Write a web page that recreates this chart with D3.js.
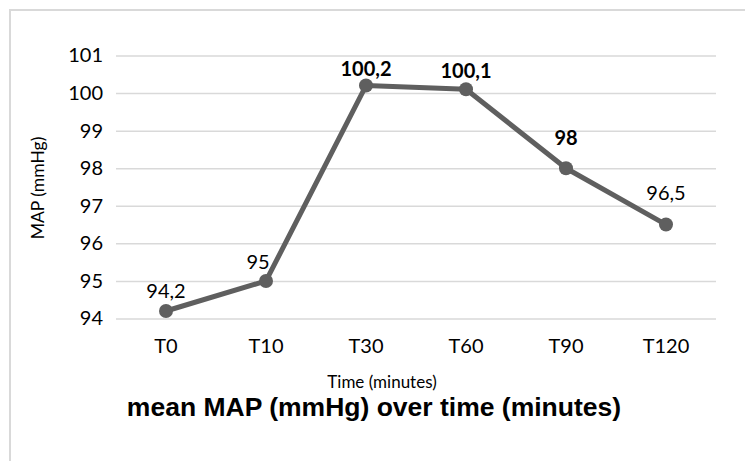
<!DOCTYPE html>
<html>
<head>
<meta charset="utf-8">
<script src="https://cdn.jsdelivr.net/npm/d3@7"></script>
<style>
  html, body { margin: 0; padding: 0; background: #fff; }
  svg { display: block; }
</style>
</head>
<body>
<svg id="chart" width="745" height="461"></svg>
<script>
// Mean arterial pressure at each time point
const categories = ["T0", "T10", "T30", "T60", "T90", "T120"];
const mapValues = [94.2, 95, 100.2, 100.1, 98, 96.5];
const boldLabels = [false, false, true, true, true, false];
const yTicks = [94, 95, 96, 97, 98, 99, 100, 101];

// hand-placed value label offsets (dx, dy from the marker)
const labelNudge = [[0, -13], [-8, -12], [0, -10], [0, -11], [0, -23], [0, -25]];

const svg = d3.select("#chart");
const W = 745, H = 461;
const plot = { left: 116, right: 716, top: 55.5, bottom: 318.5 };
const tickFont = "Lato, 'Open Sans', sans-serif";
const lineColor = "#5f5f5f";

// outer chart frame
svg.append("rect")
  .attr("x", 10).attr("y", 10)
  .attr("width", W + 20).attr("height", H + 20)
  .attr("fill", "#fff")
  .attr("stroke", "#d9d9d9").attr("stroke-width", 2);

const x = d3.scaleBand().domain(categories).range([plot.left, plot.right]);
const y = d3.scaleLinear().domain([94, 101]).range([plot.bottom, plot.top]);

// horizontal gridlines + y labels
const yAxis = d3.axisLeft(y).tickValues(yTicks).tickFormat(d3.format("d"))
  .tickSize(-(plot.right - plot.left)).tickPadding(13);
const gy = svg.append("g").attr("transform", `translate(${plot.left},0)`).call(yAxis);
gy.select(".domain").remove();
gy.selectAll(".tick line").attr("stroke", "#d9d9d9").attr("stroke-width", 1.5);
gy.selectAll(".tick text")
  .attr("fill", "#000").style("font-family", tickFont).style("font-size", "20px");

// category labels
const xAxis = d3.axisBottom(x).tickSize(0).tickPadding(20);
const gx = svg.append("g").attr("transform", `translate(0,${plot.bottom})`).call(xAxis);
gx.select(".domain").remove();
gx.selectAll(".tick text")
  .attr("fill", "#000").style("font-family", tickFont).style("font-size", "20px");

const cx = d => x(d) + x.bandwidth() / 2;
const pts = categories.map((c, i) => ({ c, v: mapValues[i], bold: boldLabels[i], nudge: labelNudge[i] }));

// series line
svg.append("path")
  .datum(pts)
  .attr("fill", "none")
  .attr("stroke", lineColor)
  .attr("stroke-width", 5)
  .attr("stroke-linejoin", "round")
  .attr("d", d3.line().x(d => cx(d.c)).y(d => y(d.v)));

// markers
svg.selectAll("circle.pt").data(pts).join("circle")
  .attr("class", "pt")
  .attr("cx", d => cx(d.c)).attr("cy", d => y(d.v))
  .attr("r", 7).attr("fill", lineColor);

// value labels
svg.selectAll("text.val").data(pts).join("text")
  .attr("class", "val")
  .attr("x", d => cx(d.c) + d.nudge[0]).attr("y", d => y(d.v) + d.nudge[1])
  .attr("text-anchor", "middle")
  .style("font-family", tickFont).style("font-size", "20px")
  .style("font-weight", d => d.bold ? "bold" : "normal")
  .attr("fill", "#000")
  .text(d => String(d.v).replace(".", ","));

// axis titles
svg.append("text")
  .attr("transform", `translate(44,${(plot.top + plot.bottom) / 2 + 1}) rotate(-90)`)
  .attr("text-anchor", "middle")
  .style("font-family", tickFont).style("font-size", "17.5px")
  .attr("fill", "#000")
  .text("MAP (mmHg)");

svg.append("text")
  .attr("x", 382).attr("y", 388)
  .attr("text-anchor", "middle")
  .style("font-family", tickFont).style("font-size", "17px")
  .attr("fill", "#000")
  .text("Time (minutes)");

// chart title
svg.append("text")
  .attr("x", 374).attr("y", 416)
  .attr("text-anchor", "middle")
  .style("font-family", "'Liberation Sans', Arial, sans-serif")
  .style("font-size", "26.5px").style("font-weight", "bold")
  .attr("fill", "#000")
  .text("mean MAP (mmHg) over time (minutes)");
</script>
</body>
</html>
